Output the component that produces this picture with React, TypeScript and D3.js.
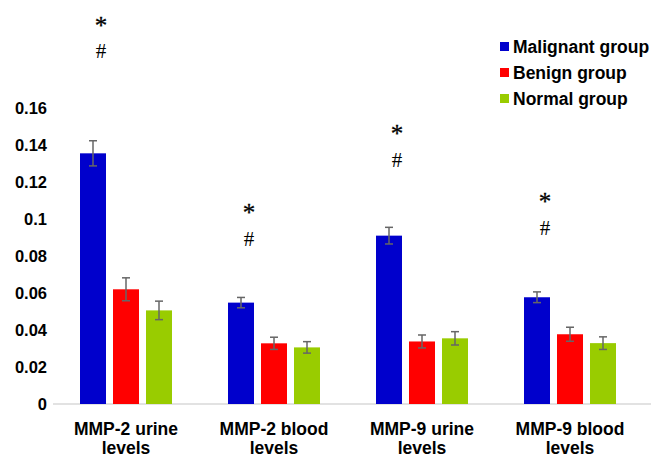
import * as d3 from 'd3'

const categories = ['MMP-2 urine|levels', 'MMP-2 blood|levels', 'MMP-9 urine|levels', 'MMP-9 blood|levels']
const seriesNames = ['Malignant group', 'Benign group', 'Normal group']
const seriesColors = ['#0000CC', '#FF0000', '#99CC00']

const malignant = [0.1355, 0.0548, 0.0910, 0.0577]
const benign = [0.0620, 0.0328, 0.0338, 0.0377]
const normal = [0.0506, 0.0306, 0.0355, 0.0329]

const malignantErr = [0.0068, 0.0028, 0.0045, 0.0029]
const benignErr = [0.0062, 0.0033, 0.0035, 0.0038]
const normalErr = [0.0050, 0.0031, 0.0036, 0.0034]

// significance marks drawn above the malignant bars (value level of each mark)
const starLevels = [0.207, 0.106, 0.149, 0.112]
const hashLevels = [0.191, 0.089, 0.132, 0.095]

const yTicks = [0, 0.02, 0.04, 0.06, 0.08, 0.1, 0.12, 0.14, 0.16]

const W = 654
const H = 455

export default function App() {
    const values = [malignant, benign, normal]
    const errors = [malignantErr, benignErr, normalErr]

    const x = d3.scaleBand().domain(categories).range([52, 644])
    const inner = d3.scaleBand().domain(seriesNames).range([28, 120]).paddingInner(7 / 33)
    const y = d3.scaleLinear().domain([0, 0.16]).range([404, 108])

    const font = '"Liberation Sans", Arial, sans-serif'
    const markX = inner(seriesNames[0])! + inner.bandwidth() / 2 + 8

    return (
        <svg width={W} height={H} style={{ position: 'absolute', left: 0, top: 0 }} fontFamily={font}>
            <rect width={W} height={H} fill="#fff" />
            {yTicks.map((t) => (
                <text key={t} x={47} y={y(t)} dy="0.36em" textAnchor="end" fontSize={16.5} fontWeight="bold" fill="#000">
                    {String(+t.toFixed(2))}
                </text>
            ))}
            <line x1={53} x2={651} y1={y(0)} y2={y(0)} stroke="#d9d9d9" strokeWidth={1.5} />

            {categories.map((c, ci) => (
                <g key={c} transform={`translate(${x(c)},0)`}>
                    {seriesNames.map((s, si) => {
                        const v = values[si][ci]
                        const e = errors[si][ci]
                        const bx = inner(s)!
                        const cx = bx + inner.bandwidth() / 2
                        return (
                            <g key={s}>
                                <rect x={bx} y={y(v)} width={inner.bandwidth()} height={y(0) - y(v)} fill={seriesColors[si]} />
                                <line x1={cx} x2={cx} y1={y(v + e)} y2={y(v - e)} stroke="#666" strokeWidth={1.5} />
                                <line x1={cx - 4} x2={cx + 4} y1={y(v + e)} y2={y(v + e)} stroke="#666" strokeWidth={1.5} />
                                <line x1={cx - 4} x2={cx + 4} y1={y(v - e)} y2={y(v - e)} stroke="#666" strokeWidth={1.5} />
                            </g>
                        )
                    })}
                    <text x={markX} y={y(starLevels[ci])} dy="0.53em" textAnchor="middle"
                        fontFamily='"Liberation Serif", serif' fontSize={25} stroke="#000" strokeWidth={0.3}>*</text>
                    <text x={markX} y={y(hashLevels[ci])} dy="0.33em" textAnchor="middle"
                        fontFamily='"Liberation Serif", serif' fontSize={21}>#</text>
                    {c.split('|').map((line, li) => (
                        <text key={li} x={x.bandwidth() / 2} y={434.5 + li * 19} textAnchor="middle" fontSize={17.5} fontWeight="bold">
                            {line}
                        </text>
                    ))}
                </g>
            ))}

            {seriesNames.map((s, i) => (
                <g key={s} transform={`translate(500,${47 + i * 26})`}>
                    <rect x={0} y={-5} width={9} height={9} fill={seriesColors[i]} />
                    <text x={13} y={0} dy="0.35em" fontSize={17.5} fontWeight="bold">{s}</text>
                </g>
            ))}
        </svg>
    )
}
